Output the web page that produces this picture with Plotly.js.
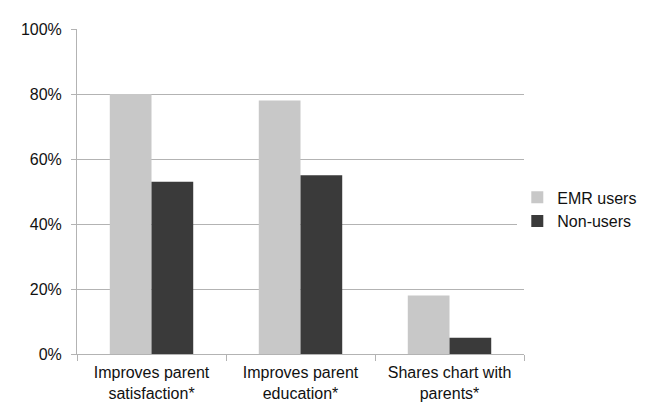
<!DOCTYPE html>
<html>
<head>
<meta charset="utf-8">
<script src="https://cdn.plot.ly/plotly-3.0.1.min.js"></script>
<style>
  html, body { margin: 0; padding: 0; background: #fff; }
  #plot { width: 660px; height: 407px; }
</style>
</head>
<body>
<div id="plot"></div>
<script>
const categories = [
  'Improves parent<br>satisfaction*',
  'Improves parent<br>education*',
  'Shares chart with<br>parents*'
];
const emrUsers = [80, 78, 18];
const nonUsers = [53, 55, 5];
const yTicks = [0, 20, 40, 60, 80, 100];
const yTickLabels = ['0%', '20%', '40%', '60%', '80%', '100%'];

const axisGray = '#b3b3b3';

function plot() {
  let plotElem = document.getElementById('plot');
  Plotly.newPlot(
    plotElem,
    [
      {
        type: 'bar',
        x: categories,
        y: emrUsers,
        name: 'EMR users',
        marker: { color: '#c8c8c8' },
        hoverinfo: 'skip',
      },
      {
        type: 'bar',
        x: categories,
        y: nonUsers,
        name: 'Non-users',
        marker: { color: '#3a3a3a' },
        hoverinfo: 'skip',
      }
    ],
    {
      width: 660,
      height: 407,
      margin: { l: 77, r: 136, t: 29, b: 53, autoexpand: false },
      paper_bgcolor: '#fff',
      plot_bgcolor: '#fff',
      font: { family: 'Liberation Sans, Arial, sans-serif', size: 16, color: '#111' },
      barmode: 'group',
      bargap: 0.44,
      bargroupgap: 0,
      showlegend: true,
      legend: {
        x: 0.985,
        xanchor: 'left',
        y: 0.445,
        yanchor: 'middle',
        font: { size: 16 },
        itemwidth: 30,
        tracegroupgap: 0,
      },
      xaxis: {
        type: 'category',
        showline: true,
        linecolor: axisGray,
        linewidth: 1,
        ticks: 'outside',
        tickson: 'boundaries',
        ticklen: 6,
        tickcolor: axisGray,
        showgrid: false,
        ticklabelstandoff: 4,
        tickfont: { size: 16 },
        automargin: false,
      },
      yaxis: {
        range: [0, 100],
        tickvals: yTicks,
        ticktext: yTickLabels,
        showline: true,
        linecolor: axisGray,
        linewidth: 1,
        ticks: 'outside',
        ticklen: 5,
        tickcolor: axisGray,
        showgrid: true,
        gridcolor: axisGray,
        gridwidth: 1,
        zeroline: false,
        ticklabelstandoff: 6,
        tickfont: { size: 16 },
        automargin: false,
      },
    },
    { displayModeBar: false, staticPlot: true }
  );
}

plot();
</script>
</body>
</html>
